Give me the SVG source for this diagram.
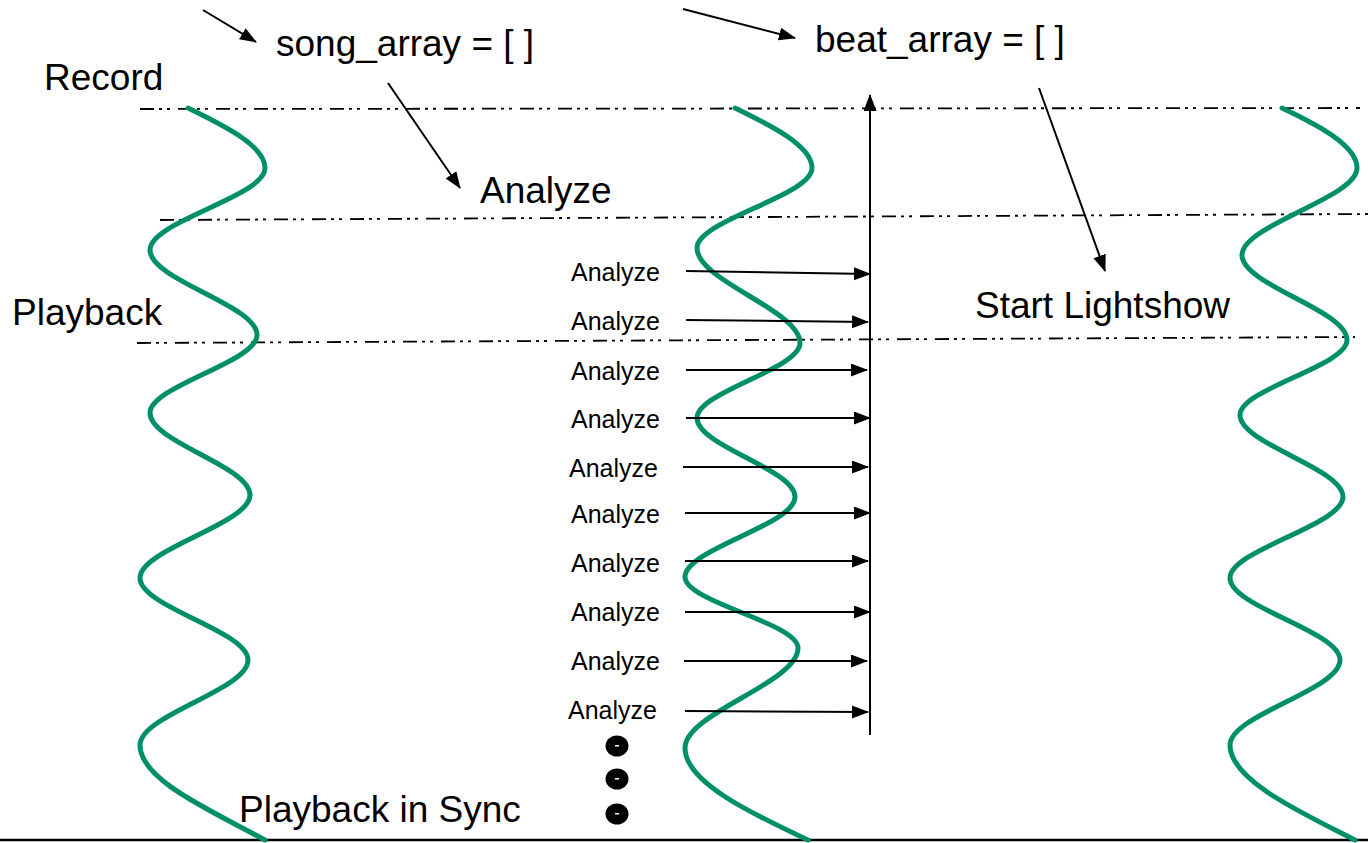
<svg xmlns="http://www.w3.org/2000/svg" width="1368" height="843" viewBox="0 0 1368 843">
<style>
.t{font-family:"Liberation Sans",Arial,sans-serif;fill:#000}
.big{font-size:37px}
.sm{font-size:25px}
.wave{fill:none;stroke:#008f68;stroke-width:5;stroke-linecap:round}
.dd{stroke:#000;stroke-width:1.8;stroke-dasharray:14,5,3,5,3,8;fill:none}
.ar{stroke:#000;stroke-width:2;fill:none;marker-end:url(#ah)}
</style>
<defs>
<marker id="ah" markerUnits="userSpaceOnUse" markerWidth="18" markerHeight="14" refX="16" refY="6.5" orient="auto">
<path d="M0,0 L17,6.5 L0,13 z" fill="#000"/>
</marker>
</defs>
<rect width="1368" height="843" fill="#fff"/>
<g id="phase-lines">
<line class="dd" x1="140" y1="109" x2="1360" y2="108"/>
<line class="dd" x1="160" y1="220" x2="1368" y2="214"/>
<line class="dd" x1="137" y1="343" x2="1355" y2="337"/>
<line x1="0" y1="840" x2="1368" y2="840" stroke="#000" stroke-width="2.5"/>
</g>
<g id="wave-left">
<path class="wave" d="M188,108 C225,126 265,146 265,168 C265,197 150,221 150,250 C150,280 257,305 257,335 C257,362 150,386 150,413 C150,442 250,466 250,495 C250,524 140,549 140,578 C140,607 248,631 248,660 C248,690 140,715 140,745 C140,780 210,810 265,840"/>
</g>
<g id="wave-middle">
<path class="wave" d="M735,108 C772,126 812,146 812,168 C812,196 697,220 697,248 C697,281 800,310 800,343 C800,369 697,392 697,418 C697,446 795,469 795,497 C795,525 685,549 685,577 C685,602 798,623 798,648 C798,683 685,713 685,748 C685,783 755,815 808,840"/>
</g>
<g id="wave-right">
<path class="wave" d="M1282,108 C1320,126 1357,146 1357,168 C1357,198 1242,225 1242,255 C1242,285 1347,310 1347,340 C1347,366 1240,389 1240,415 C1240,444 1343,468 1343,497 C1343,525 1230,550 1230,578 C1230,607 1340,631 1340,660 C1340,690 1230,715 1230,745 C1230,780 1300,812 1355,840"/>
</g>
<g id="labels">
<text class="t big" x="44" y="90">Record</text>
<text class="t big" x="276" y="56">song_array = [ ]</text>
<text class="t big" x="815" y="52">beat_array = [ ]</text>
<text class="t big" x="480" y="203">Analyze</text>
<text class="t big" x="12" y="325">Playback</text>
<text class="t big" x="975" y="318">Start Lightshow</text>
<text class="t big" x="239" y="822">Playback in Sync</text>
</g>
<g id="analyze-steps">
<text class="t sm" x="571" y="281">Analyze</text>
<text class="t sm" x="571" y="330">Analyze</text>
<text class="t sm" x="571" y="380">Analyze</text>
<text class="t sm" x="571" y="428">Analyze</text>
<text class="t sm" x="569" y="477">Analyze</text>
<text class="t sm" x="571" y="523">Analyze</text>
<text class="t sm" x="571" y="572">Analyze</text>
<text class="t sm" x="571" y="621">Analyze</text>
<text class="t sm" x="571" y="670">Analyze</text>
<text class="t sm" x="568" y="719">Analyze</text>
</g>
<g id="ellipsis">
<ellipse cx="617" cy="746" rx="11.5" ry="10.5" fill="#000"/>
<ellipse cx="617" cy="779" rx="11.5" ry="10.5" fill="#000"/>
<ellipse cx="617" cy="814" rx="11.5" ry="10.5" fill="#000"/>
<rect x="615" y="745" width="4" height="1.5" fill="#fff"/>
<rect x="615" y="778" width="4" height="1.5" fill="#fff"/>
<rect x="615" y="813" width="4" height="1.5" fill="#fff"/>
</g>
<g id="connectors">
<line class="ar" x1="203" y1="10" x2="256" y2="42"/>
<line class="ar" x1="388" y1="83" x2="460" y2="188"/>
<line class="ar" x1="683" y1="9" x2="795" y2="38"/>
<line class="ar" x1="1039" y1="88" x2="1105" y2="271"/>
<line class="ar" x1="870" y1="735" x2="870" y2="95"/>
<line class="ar" x1="686" y1="271" x2="870" y2="274"/>
<line class="ar" x1="686" y1="320" x2="868" y2="322"/>
<line class="ar" x1="686" y1="370" x2="867" y2="370"/>
<line class="ar" x1="686" y1="418" x2="870" y2="418"/>
<line class="ar" x1="683" y1="467" x2="868" y2="467"/>
<line class="ar" x1="685" y1="513" x2="870" y2="513"/>
<line class="ar" x1="685" y1="561" x2="868" y2="561"/>
<line class="ar" x1="685" y1="612" x2="870" y2="612"/>
<line class="ar" x1="684" y1="661" x2="867" y2="661"/>
<line class="ar" x1="685" y1="711" x2="868" y2="712"/>
</g>
</svg>
